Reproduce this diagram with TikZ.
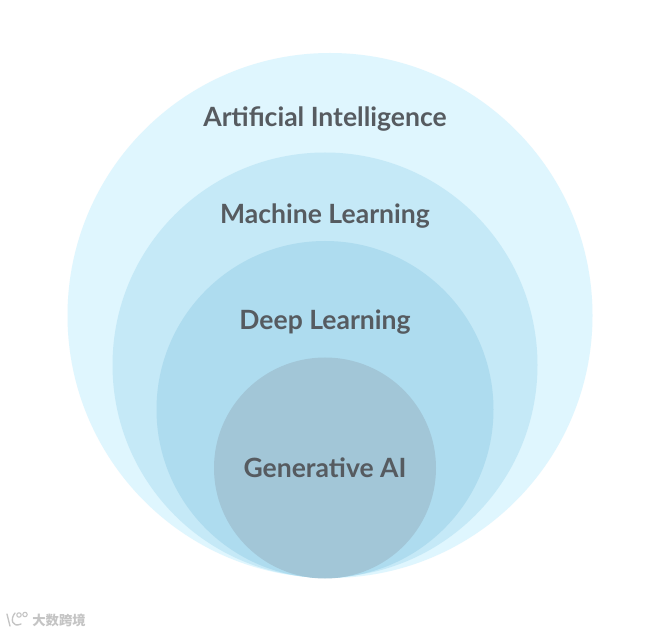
\documentclass[tikz,border=0pt]{standalone}
\usepackage{fontspec}
\setmainfont{Lato}[BoldFont={Lato Bold}]
\newfontfamily\wmfont{Noto Sans CJK SC}
\definecolor{cA}{HTML}{DFF6FE}
\definecolor{cB}{HTML}{C5E9F7}
\definecolor{cC}{HTML}{AEDCEF}
\definecolor{cD}{HTML}{A2C6D7}
\definecolor{txt}{HTML}{565B60}
\definecolor{wmc}{HTML}{C4C4C4}
\tikzset{px/.style={x=0.75pt,y=-0.75pt},
 lab/.style={text=txt,font=\fontsize{19.9pt}{24pt}\selectfont\bfseries,inner sep=0pt,anchor=base},
 }
\begin{document}
\begin{tikzpicture}[px]
\useasboundingbox (0,0) rectangle (646,634);
\fill[white] (0,0) rectangle (646,634);
\fill[cA] (330,315.5) ellipse [x radius=262.5,y radius=262.5];
\fill[cB] (325,365) ellipse [x radius=212.5,y radius=212.5];
\fill[cC] (325,409.5) ellipse [x radius=168.5,y radius=168.5];
\fill[cD] (325,468) ellipse [x radius=111,y radius=110.5];
\node[lab] (ai) at (325,127) {Artificial Intelligence};
\node[lab] (ml) at (325,224) {Machine Learning};
\node[lab] (dl) at (325,330) {Deep Learning};
\node[lab] (ga) at (325,477) {Generative AI};
\node[text=wmc,font=\wmfont\fontsize{10pt}{12pt}\selectfont\bfseries,inner sep=0pt] (wm) at (59,620.5) {大数跨境};
\draw[wmc,line width=1pt,line cap=round] (7,614) -- (10,626) (15,613) .. controls (10,619) and (12,628) .. (21,624);
\draw[wmc,line width=0.8pt] (19,615) circle [radius=2.2] (25,614.5) circle [radius=2.2];
\end{tikzpicture}
\end{document}
